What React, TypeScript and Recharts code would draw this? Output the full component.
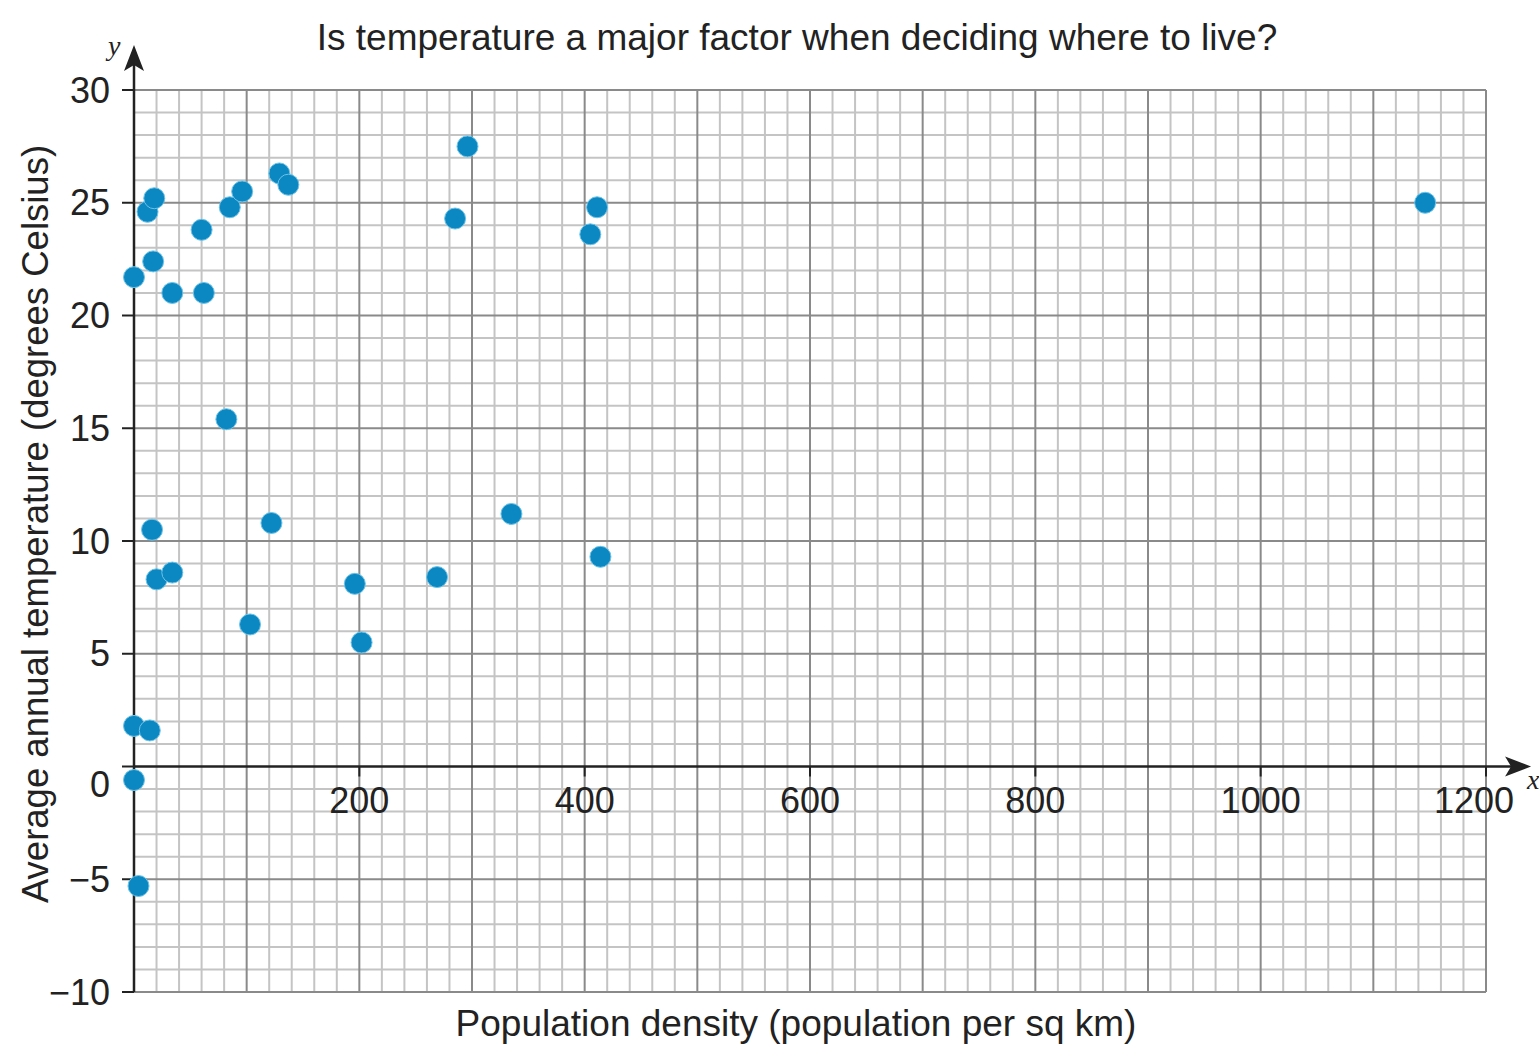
import React from "react";
import {
  ScatterChart,
  Scatter,
  XAxis,
  YAxis,
  ReferenceLine,
  ReferenceDot,
} from "recharts";

const density = [
  0, 12, 18, 17, 34, 60, 62, 85, 96, 129, 137, 82, 16, 20, 34, 122, 103, 196,
  202, 269, 285, 296, 335, 405, 411, 414, 1146, 0, 14, 0, 4,
];
const temperature = [
  21.7, 24.6, 25.2, 22.4, 21.0, 23.8, 21.0, 24.8, 25.5, 26.3, 25.8, 15.4, 10.5,
  8.3, 8.6, 10.8, 6.3, 8.1, 5.5, 8.4, 24.3, 27.5, 11.2, 23.6, 24.8, 9.3, 25.0,
  1.8, 1.6, -0.6, -5.3,
];
const xTickValues = [200, 400, 600, 800, 1000, 1200];
const yTickValues = [-10, -5, 0, 5, 10, 15, 20, 25, 30];

const points = density.map((x, i) => ({ x, y: temperature[i] }));

const minorX: number[] = [];
for (let v = 20; v <= 1200; v += 20) if (v % 100 !== 0) minorX.push(v);
const majorX: number[] = [100, 200, 300, 400, 500, 600, 700, 800, 900, 1000, 1100, 1200];
const minorY: number[] = [];
for (let v = -9; v <= 30; v += 1) if (v % 5 !== 0) minorY.push(v);
const majorY = [-10, -5, 5, 10, 15, 20, 25, 30];

const FONT = "'Liberation Sans', Arial, sans-serif";
const INK = "#222";

const YTick = (props: any) => {
  const { x, y, payload } = props;
  const v = payload.value as number;
  const label = v < 0 ? `\u2212${Math.abs(v)}` : `${v}`;
  return (
    <text
      x={x - 10}
      y={v === 0 ? y + 18 : y}
      textAnchor="end"
      dominantBaseline="central"
      fontSize={36}
      fontFamily={FONT}
      fill={INK}
    >
      {label}
    </text>
  );
};

const arrowLine = (dir: "x" | "y") => (p: any) => {
  const { x1, y1, x2, y2 } = p;
  if (dir === "x") {
    return (
      <g>
        <line x1={x1} y1={y1} x2={x2 - 10} y2={y2} stroke={INK} strokeWidth={2.5} />
        <polygon points={`${x2},${y2} ${x2 - 26},${y2 - 10} ${x2 - 20},${y2} ${x2 - 26},${y2 + 10}`} fill={INK} />
        <text x={x2 - 4} y={y2 + 22} fontSize={28} fontStyle="italic" fontFamily="'Liberation Serif', serif" fill={INK}>
          x
        </text>
      </g>
    );
  }
  // y arrow drawn from bottom (y1) up to top (y2)
  const top = Math.min(y1, y2);
  const bottom = Math.max(y1, y2);
  return (
    <g>
      <line x1={x1} y1={bottom} x2={x1} y2={top + 10} stroke={INK} strokeWidth={2.5} />
      <polygon points={`${x1},${top} ${x1 - 10},${top + 26} ${x1},${top + 20} ${x1 + 10},${top + 26}`} fill={INK} />
      <text x={x1 - 26} y={top + 10} fontSize={28} fontStyle="italic" fontFamily="'Liberation Serif', serif" fill={INK}>
        y
      </text>
    </g>
  );
};

const xTickShape = (label: number) => (p: any) => {
  const { cx, cy } = p;
  // the last label sits a little to the left so it clears the arrow
  const shift = label === 1200 ? -12 : 0;
  return (
    <g>
      <line x1={cx} y1={cy} x2={cx} y2={cy + 10} stroke={INK} strokeWidth={2} />
      <text
        x={cx + shift}
        y={cy + 34}
        textAnchor="middle"
        dominantBaseline="central"
        fontSize={36}
        fontFamily={FONT}
        fill={INK}
      >
        {label}
      </text>
    </g>
  );
};

const Dot = (p: any) => (
  <circle cx={p.cx} cy={p.cy} r={10.5} fill="#0b87c1" stroke="#6cc3e8" strokeWidth={1} />
);

export default function App() {
  return (
    <div style={{ position: "absolute", left: 0, top: 0, width: 1539, height: 1045, background: "#fff" }}>
      <div
        style={{
          position: "absolute",
          left: 0,
          width: 1594,
          top: 17,
          textAlign: "center",
          fontFamily: FONT,
          fontSize: 37,
          color: INK,
        }}
      >
        Is temperature a major factor when deciding where to live?
      </div>
      <ScatterChart
        width={1539}
        height={1045}
        margin={{ top: 90, right: 53, bottom: 53, left: 14 }}
      >
        <XAxis type="number" dataKey="x" domain={[0, 1200]} hide />
        <YAxis
          type="number"
          dataKey="y"
          domain={[-10, 30]}
          ticks={yTickValues}
          interval={0}
          width={120}
          axisLine={false}
          tickSize={12}
          tickLine={{ stroke: INK, strokeWidth: 2 }}
          tick={<YTick />}
        />
        {minorX.map((v) => (
          <ReferenceLine key={`mx${v}`} x={v} stroke="#c4c4c4" strokeWidth={2} />
        ))}
        {minorY.map((v) => (
          <ReferenceLine key={`my${v}`} y={v} stroke="#c4c4c4" strokeWidth={2} />
        ))}
        {majorX.map((v) => (
          <ReferenceLine key={`Mx${v}`} x={v} stroke="#8a8a8a" strokeWidth={2} />
        ))}
        {majorY.map((v) => (
          <ReferenceLine key={`My${v}`} y={v} stroke="#8a8a8a" strokeWidth={2} />
        ))}
        <ReferenceLine
          segment={[{ x: 0, y: 0 }, { x: 1240, y: 0 }]}
          ifOverflow="visible"
          shape={arrowLine("x")}
        />
        <ReferenceLine
          segment={[{ x: 0, y: -10 }, { x: 0, y: 32 }]}
          ifOverflow="visible"
          shape={arrowLine("y")}
        />
        {xTickValues.map((v) => (
          <ReferenceDot key={`xt${v}`} x={v} y={0} r={0} ifOverflow="visible" shape={xTickShape(v)} />
        ))}
        <Scatter data={points} shape={<Dot />} isAnimationActive={false} />
      </ScatterChart>
      <div
        style={{
          position: "absolute",
          left: 0,
          width: 1592,
          top: 1003,
          textAlign: "center",
          fontFamily: FONT,
          fontSize: 37,
          color: INK,
        }}
      >
        Population density (population per sq km)
      </div>
      <div
        style={{
          position: "absolute",
          left: 36,
          top: 524,
          transform: "translate(-50%, -50%) rotate(-90deg)",
          whiteSpace: "nowrap",
          fontFamily: FONT,
          fontSize: 36.5,
          color: INK,
        }}
      >
        Average annual temperature (degrees Celsius)
      </div>
    </div>
  );
}
